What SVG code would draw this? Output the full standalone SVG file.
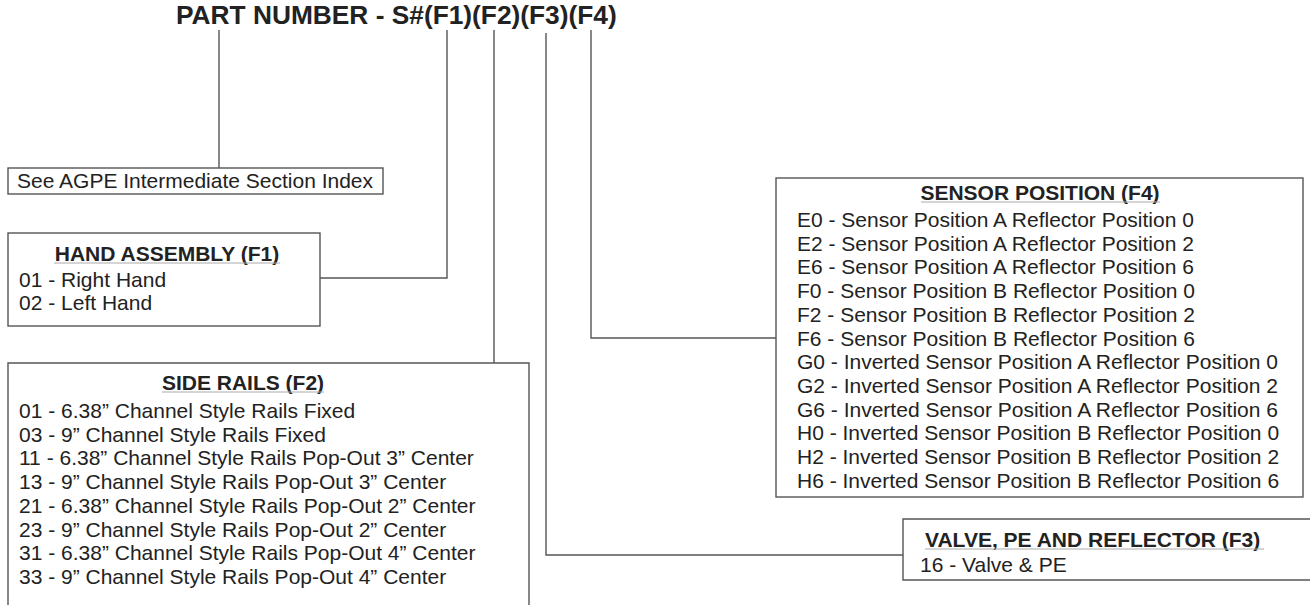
<svg xmlns="http://www.w3.org/2000/svg" width="1310" height="605" viewBox="0 0 1310 605">
<style>
text{font-family:"Liberation Sans",Arial,sans-serif;fill:#222}
.t{font-size:21px}
.h{font-size:21px;font-weight:bold;text-anchor:middle}
.hl{font-size:21px;font-weight:bold}
.box{fill:none;stroke:#555;stroke-width:1.4}
.ul{stroke:#aaa;stroke-width:1}
.c{fill:none;stroke:#555;stroke-width:1.4}
</style>
<rect width="1310" height="605" fill="#fff"/>
<g id="title"><text x="176" y="24" style="font-size:26.3px;font-weight:bold">PART NUMBER - S#(F1)(F2)(F3)(F4)</text></g>
<g id="connectors">
<path class="c" d="M219,30 V168"/>
<path class="c" d="M447,30 V278 H320"/>
<path class="c" d="M494,30 V363"/>
<path class="c" d="M546,33 V555 H903"/>
<path class="c" d="M591,30 V338 H776"/>
</g>
<g id="index">
<rect class="box" x="8" y="168" width="375" height="26"/>
<text class="t" x="17" y="188">See AGPE Intermediate Section Index</text>
</g>
<g id="hand">
<rect class="box" x="8" y="233" width="312" height="93"/>
<text class="h" x="167" y="261">HAND ASSEMBLY (F1)</text>
<line class="ul" x1="54" y1="263" x2="280" y2="263"/>
<text class="t" x="19" y="287">01 - Right Hand</text>
<text class="t" x="19" y="310">02 - Left Hand</text>
</g>
<g id="rails">
<path class="box" d="M8,606 V363 H529 V606"/>
<text class="h" x="243" y="390">SIDE RAILS (F2)</text>
<line class="ul" x1="162" y1="392" x2="324" y2="392"/>
<text class="t" x="19" y="418">01 - 6.38” Channel Style Rails Fixed</text>
<text class="t" x="19" y="441.7">03 - 9” Channel Style Rails Fixed</text>
<text class="t" x="19" y="465.4">11 - 6.38” Channel Style Rails Pop-Out 3” Center</text>
<text class="t" x="19" y="489.1">13 - 9” Channel Style Rails Pop-Out 3” Center</text>
<text class="t" x="19" y="512.8">21 - 6.38” Channel Style Rails Pop-Out 2” Center</text>
<text class="t" x="19" y="536.5">23 - 9” Channel Style Rails Pop-Out 2” Center</text>
<text class="t" x="19" y="560.2">31 - 6.38” Channel Style Rails Pop-Out 4” Center</text>
<text class="t" x="19" y="583.9">33 - 9” Channel Style Rails Pop-Out 4” Center</text>
</g>
<g id="sensor">
<rect class="box" x="776" y="178" width="527" height="319"/>
<text class="h" x="1040" y="200">SENSOR POSITION (F4)</text>
<line class="ul" x1="921" y1="202" x2="1160" y2="202"/>
<text class="t" x="797" y="227">E0 - Sensor Position A Reflector Position 0</text>
<text class="t" x="797" y="250.7">E2 - Sensor Position A Reflector Position 2</text>
<text class="t" x="797" y="274.4">E6 - Sensor Position A Reflector Position 6</text>
<text class="t" x="797" y="298.1">F0 - Sensor Position B Reflector Position 0</text>
<text class="t" x="797" y="321.8">F2 - Sensor Position B Reflector Position 2</text>
<text class="t" x="797" y="345.5">F6 - Sensor Position B Reflector Position 6</text>
<text class="t" x="797" y="369.2">G0 - Inverted Sensor Position A Reflector Position 0</text>
<text class="t" x="797" y="392.9">G2 - Inverted Sensor Position A Reflector Position 2</text>
<text class="t" x="797" y="416.6">G6 - Inverted Sensor Position A Reflector Position 6</text>
<text class="t" x="797" y="440.3">H0 - Inverted Sensor Position B Reflector Position 0</text>
<text class="t" x="797" y="464">H2 - Inverted Sensor Position B Reflector Position 2</text>
<text class="t" x="797" y="487.7">H6 - Inverted Sensor Position B Reflector Position 6</text>
</g>
<g id="valve">
<path class="box" d="M1312,519 H903 V580 H1312"/>
<text class="hl" x="925" y="547">VALVE, PE AND REFLECTOR (F3)</text>
<line class="ul" x1="925" y1="549" x2="1264" y2="549"/>
<text class="t" x="920" y="572">16 - Valve &amp; PE</text>
</g>
</svg>
